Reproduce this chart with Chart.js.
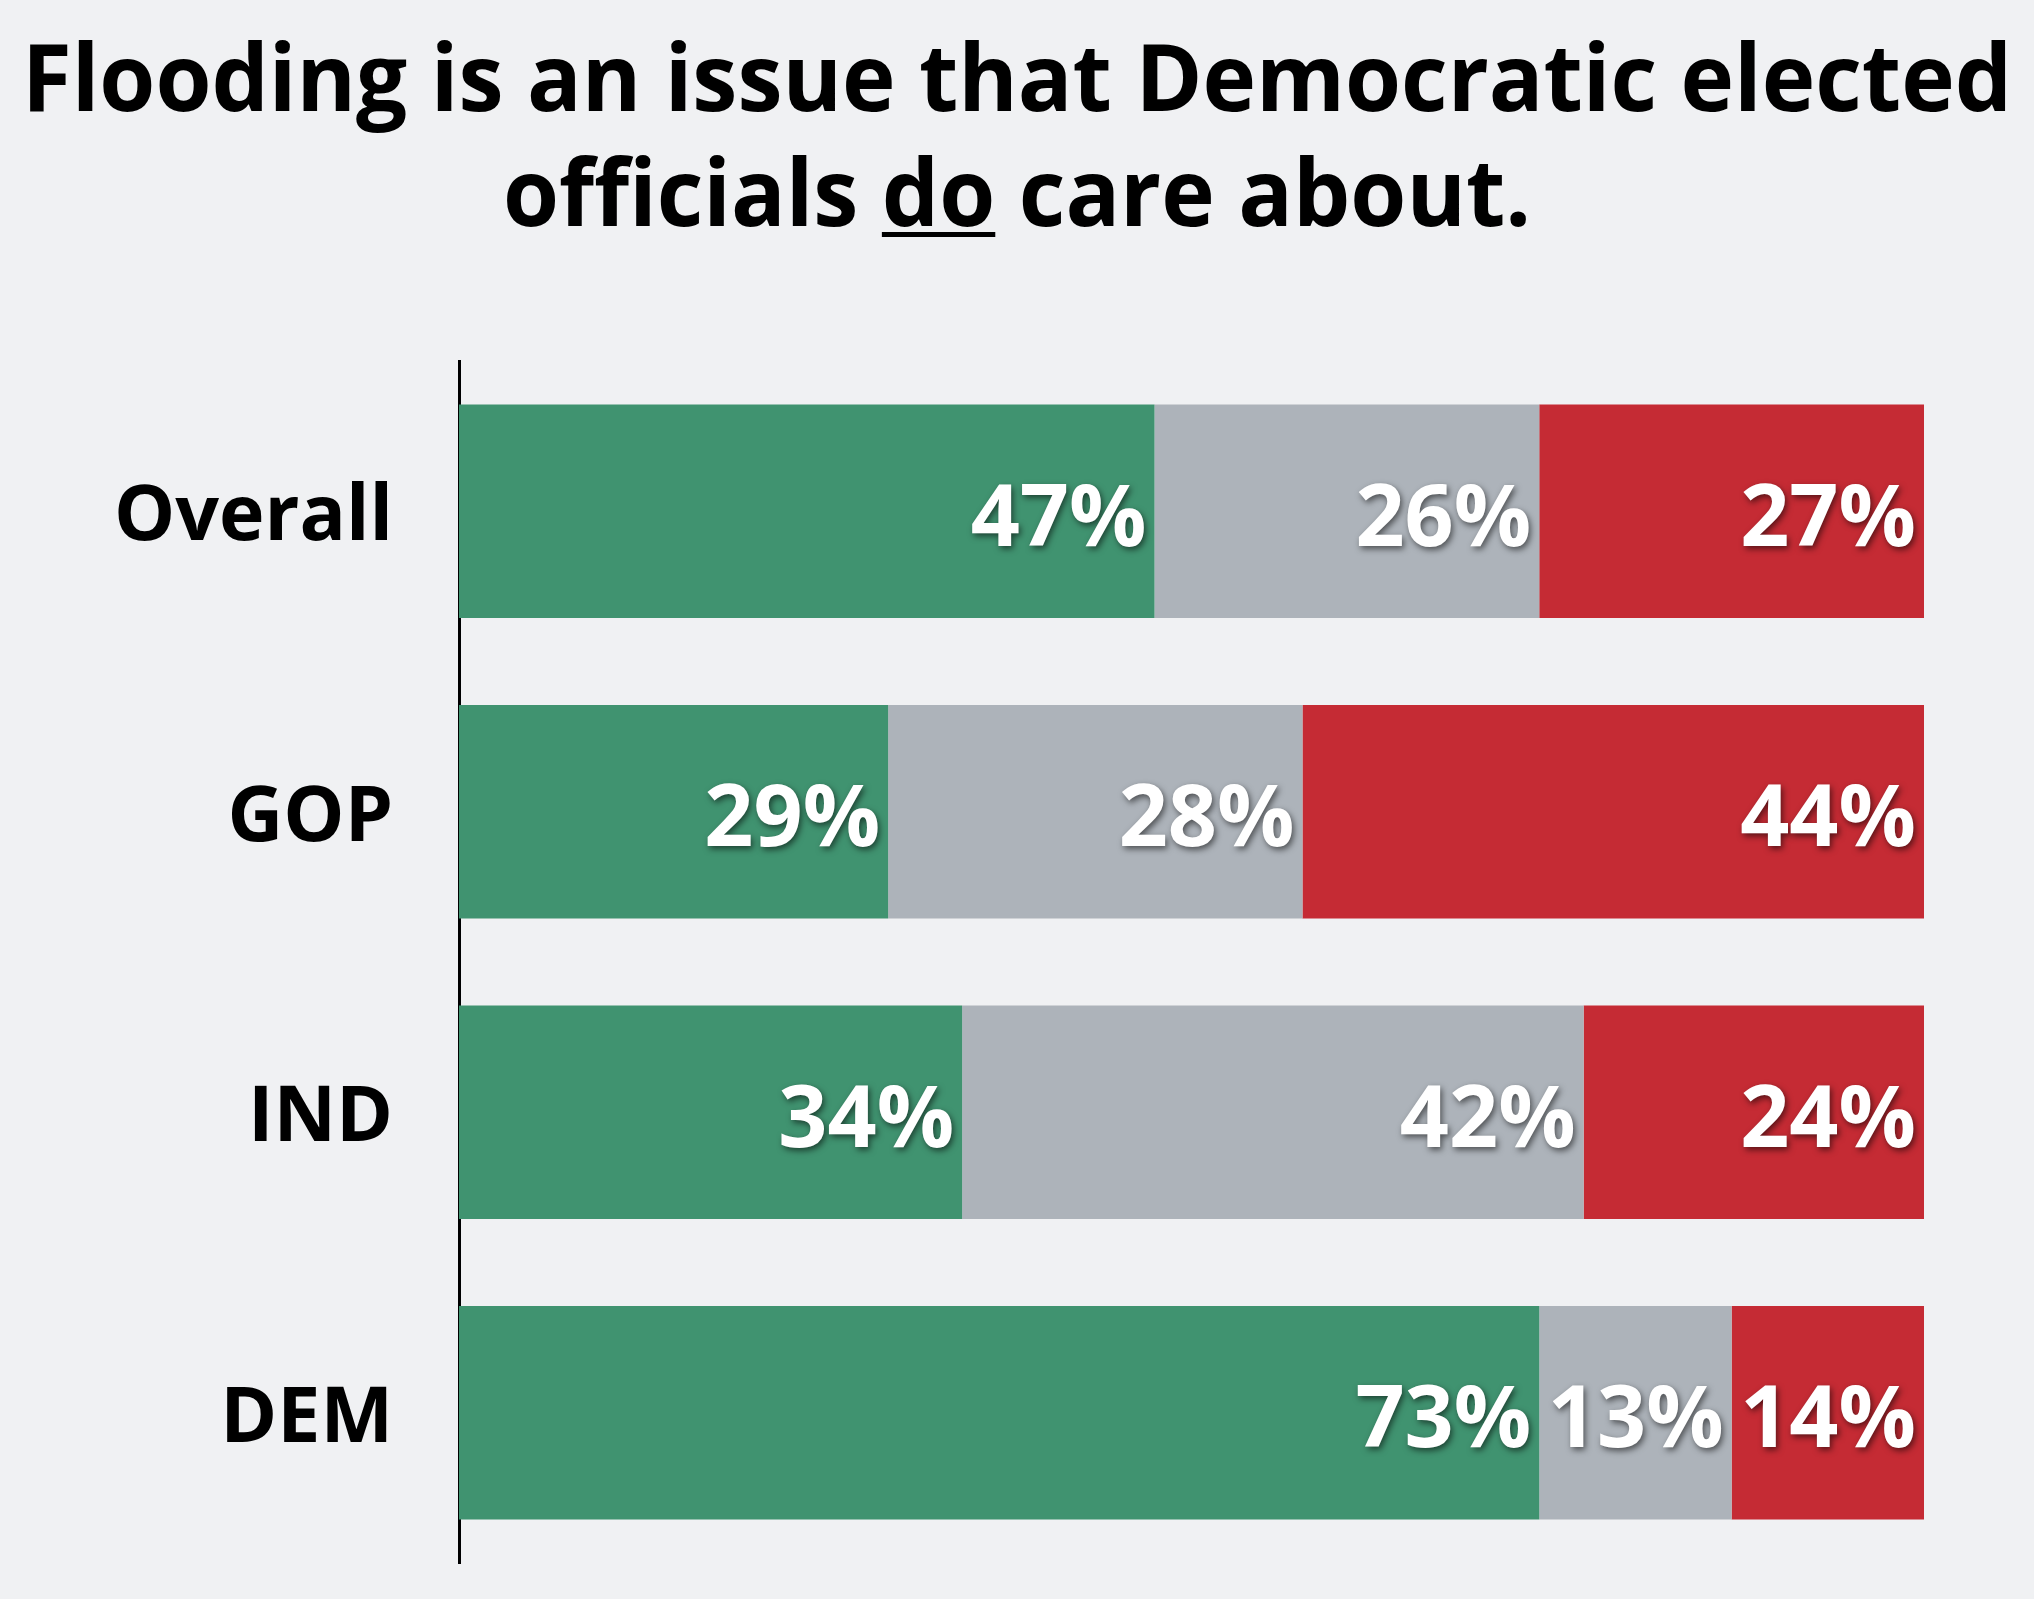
<!DOCTYPE html>
<html>
<head>
<meta charset="utf-8">
<script src="https://cdn.jsdelivr.net/npm/chart.js@4.4.1/dist/chart.umd.min.js"></script>
<style>
  body { margin: 0; background: #f0f1f3; overflow: hidden; }
  #wrap { position: relative; width: 2034px; height: 1599px; overflow: hidden; }
  #title {
    position: absolute; left: -983px; top: 18px; width: 4000px;
    text-align: center; font-family: "Open Sans", sans-serif; font-weight: 700;
    font-size: 94px; line-height: 115px; color: #000; white-space: nowrap;
    transform-origin: 50% 0;
  }
  #title u { text-decoration-thickness: 5px; text-underline-offset: 6px; }
</style>
</head>
<body>
<div id="wrap">
  <canvas id="myChart"></canvas>
  <div id="title"><span id="line1">Flooding is an issue that Democratic elected</span><br>officials <u>do</u> care about.</div>
</div>
<script>
const categories = ['Overall', 'GOP', 'IND', 'DEM'];
const doCare = [47, 29, 34, 73];
const notSure = [26, 28, 42, 13];
const dontCare = [27, 44, 24, 14];

// squeeze the title so line one spans the same width as in the original
const title = document.getElementById('title');
const line1 = document.getElementById('line1');
const ratio = 1990 / line1.getBoundingClientRect().width;
title.style.transform = 'scaleX(' + ratio + ')';

// percent labels inside the bars, right aligned
const barLabels = {
    id: 'barLabels',
    afterDatasetsDraw(chart) {
        const ctx = chart.ctx;
        const area = chart.chartArea;
        ctx.save();
        ctx.font = '700 86px "Open Sans"';
        ctx.fillStyle = '#fff';
        ctx.textAlign = 'right';
        ctx.textBaseline = 'middle';
        ctx.shadowColor = 'rgba(0,0,0,0.55)';
        ctx.shadowBlur = 6;
        ctx.shadowOffsetX = 2;
        ctx.shadowOffsetY = 3;
        chart.data.datasets.forEach((ds, i) => {
            chart.getDatasetMeta(i).data.forEach((bar, j) => {
                const x = Math.min(bar.x, area.right) - 8;
                ctx.fillText(ds.data[j] + '%', x, bar.y + 10);
            });
        });
        ctx.restore();
    }
};

const ctx = document.getElementById('myChart').getContext('2d');
const chart = new Chart(ctx, {
    type: 'bar',
    data: {
        labels: categories,
        datasets: [
            { label: 'Do care', data: doCare, backgroundColor: '#409370' },
            { label: 'Not sure', data: notSure, backgroundColor: '#adb3ba' },
            { label: 'Do not care', data: dontCare, backgroundColor: '#c52b34' }
        ]
    },
    options: {
        indexAxis: 'y',
        responsive: true,
        maintainAspectRatio: false,
        animation: false,
        layout: { padding: { top: 361, right: 110, bottom: 36, left: 0 } },
        datasets: {
            bar: { categoryPercentage: 1, barPercentage: 0.71, clip: 0, borderWidth: 0 }
        },
        plugins: {
            legend: { display: false },
            tooltip: { enabled: false },
            title: { display: false }
        },
        scales: {
            // the original's scale ends at 99, the last segment is cut at the edge
            x: { stacked: true, min: 0, max: 99, display: false },
            y: {
                stacked: true,
                grid: { display: false, drawTicks: false },
                border: { display: true, color: '#000', width: 3 },
                ticks: {
                    color: '#000',
                    padding: 66,
                    labelOffset: 7,
                    font: { family: 'Open Sans', weight: '700', size: 77 }
                },
                afterFit(scale) {
                    scale.width = 459;
                    // big labels would otherwise push the axis ends inwards
                    scale.paddingTop = 0;
                    scale.paddingBottom = 0;
                }
            }
        }
    },
    plugins: [barLabels]
});
</script>
</body>
</html>
